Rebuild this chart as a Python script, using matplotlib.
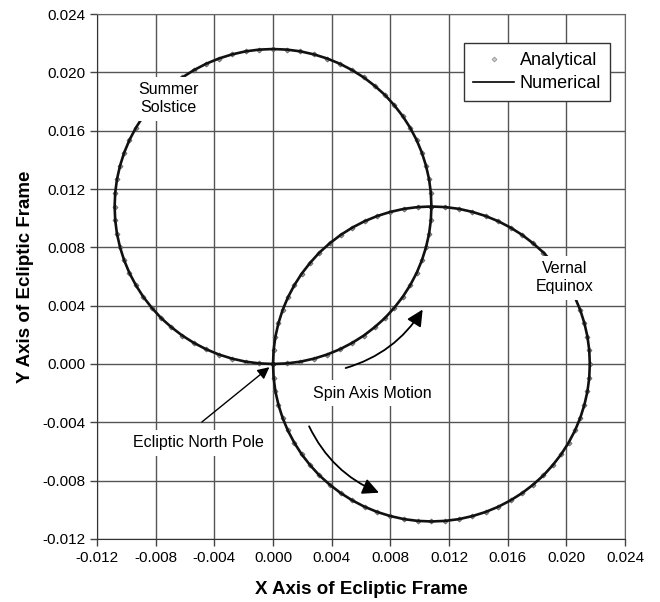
import matplotlib
matplotlib.use('Agg')
import matplotlib.pyplot as plt
from matplotlib.patches import FancyArrowPatch

plt.rcParams['font.family'] = ['Liberation Sans', 'DejaVu Sans']

# spin axis path, first loop (through summer solstice)
loop1_x = [0.0, 0.00094, 0.00187, 0.0028, 0.00369, 0.00456, 0.0054, 0.00619, 0.00694,
           0.00764, 0.00827, 0.00885, 0.00935, 0.00979, 0.01015, 0.01043, 0.01064, 0.01076,
           0.0108, 0.01076, 0.01064, 0.01043, 0.01015, 0.00979, 0.00935, 0.00885, 0.00827,
           0.00764, 0.00694, 0.00619, 0.0054, 0.00456, 0.00369, 0.0028, 0.00187, 0.00094,
           0.0, -0.00094, -0.00187, -0.0028, -0.00369, -0.00456, -0.0054, -0.00619, -0.00694,
           -0.00764, -0.00827, -0.00885, -0.00935, -0.00979, -0.01015, -0.01043, -0.01064, -0.01076,
           -0.0108, -0.01076, -0.01064, -0.01043, -0.01015, -0.00979, -0.00935, -0.00885, -0.00827,
           -0.00764, -0.00694, -0.00619, -0.0054, -0.00456, -0.00369, -0.0028, -0.00187, -0.00094,
           0.0]
loop1_y = [0.0, 0.00004, 0.00016, 0.00037, 0.00065, 0.00101, 0.00145, 0.00195, 0.00253,
           0.00316, 0.00386, 0.00461, 0.0054, 0.00624, 0.00711, 0.008, 0.00893, 0.00986,
           0.0108, 0.01174, 0.01267, 0.0136, 0.01449, 0.01536, 0.0162, 0.01699, 0.01774,
           0.01844, 0.01907, 0.01965, 0.02015, 0.02059, 0.02095, 0.02123, 0.02144, 0.02156,
           0.0216, 0.02156, 0.02144, 0.02123, 0.02095, 0.02059, 0.02015, 0.01965, 0.01907,
           0.01844, 0.01774, 0.01699, 0.0162, 0.01536, 0.01449, 0.0136, 0.01267, 0.01174,
           0.0108, 0.00986, 0.00893, 0.008, 0.00711, 0.00624, 0.0054, 0.00461, 0.00386,
           0.00316, 0.00253, 0.00195, 0.00145, 0.00101, 0.00065, 0.00037, 0.00016, 0.00004,
           0.0]

# second loop (through vernal equinox)
loop2_x = [0.0, 0.00004, 0.00016, 0.00037, 0.00065, 0.00101, 0.00145, 0.00195, 0.00253,
           0.00316, 0.00386, 0.00461, 0.0054, 0.00624, 0.00711, 0.008, 0.00893, 0.00986,
           0.0108, 0.01174, 0.01267, 0.0136, 0.01449, 0.01536, 0.0162, 0.01699, 0.01774,
           0.01844, 0.01907, 0.01965, 0.02015, 0.02059, 0.02095, 0.02123, 0.02144, 0.02156,
           0.0216, 0.02156, 0.02144, 0.02123, 0.02095, 0.02059, 0.02015, 0.01965, 0.01907,
           0.01844, 0.01774, 0.01699, 0.0162, 0.01536, 0.01449, 0.0136, 0.01267, 0.01174,
           0.0108, 0.00986, 0.00893, 0.008, 0.00711, 0.00624, 0.0054, 0.00461, 0.00386,
           0.00316, 0.00253, 0.00195, 0.00145, 0.00101, 0.00065, 0.00037, 0.00016, 0.00004,
           0.0]
loop2_y = [0.0, -0.00094, -0.00187, -0.0028, -0.00369, -0.00456, -0.0054, -0.00619, -0.00694,
           -0.00764, -0.00827, -0.00885, -0.00935, -0.00979, -0.01015, -0.01043, -0.01064, -0.01076,
           -0.0108, -0.01076, -0.01064, -0.01043, -0.01015, -0.00979, -0.00935, -0.00885, -0.00827,
           -0.00764, -0.00694, -0.00619, -0.0054, -0.00456, -0.00369, -0.0028, -0.00187, -0.00094,
           0.0, 0.00094, 0.00187, 0.0028, 0.00369, 0.00456, 0.0054, 0.00619, 0.00694,
           0.00764, 0.00827, 0.00885, 0.00935, 0.00979, 0.01015, 0.01043, 0.01064, 0.01076,
           0.0108, 0.01076, 0.01064, 0.01043, 0.01015, 0.00979, 0.00935, 0.00885, 0.00827,
           0.00764, 0.00694, 0.00619, 0.0054, 0.00456, 0.00369, 0.0028, 0.00187, 0.00094,
           0.0]

ticks = [-0.012, -0.008, -0.004, 0.0, 0.004, 0.008, 0.012, 0.016, 0.020, 0.024]

fig = plt.figure(figsize=(6.6, 6.02), dpi=100)
ax = fig.add_axes([0.147, 0.1047, 0.8, 0.872])

# analytical points under the numerical line
for lx, ly in [(loop1_x, loop1_y), (loop2_x, loop2_y)]:
    ax.plot(lx, ly, ls='none', marker='D', ms=2.6, mfc='#999999', mec='#555555',
            mew=0.5, zorder=3)
    ax.plot(lx, ly, color='#111111', lw=1.9, zorder=4)

# legend handles only
ax.plot([], [], ls='none', marker='D', ms=2.5, mfc='#cccccc', mec='#888888', mew=0.5,
        label='Analytical')
ax.plot([], [], color='black', lw=1.2, label='Numerical')

ax.set_xlim(-0.012, 0.024)
ax.set_ylim(-0.012, 0.024)
ax.set_xticks(ticks)
ax.set_yticks(ticks)
ax.set_xticklabels(['%.3f' % t for t in ticks])
ax.set_yticklabels(['%.3f' % t for t in ticks])
ax.tick_params(labelsize=11, direction='out', length=5, width=1, color='#444444')
ax.grid(True, color='#555555', lw=1)
ax.set_axisbelow(True)
for s in ['top', 'right']:
    ax.spines[s].set_color('#666666')
for s in ['left', 'bottom']:
    ax.spines[s].set_color('#333333')

ax.set_xlabel('X Axis of Ecliptic Frame', fontsize=13.5, fontweight='bold', labelpad=12)
ax.set_ylabel('Y Axis of Ecliptic Frame', fontsize=13.5, fontweight='bold', labelpad=6)

box = dict(boxstyle='square,pad=0.35', fc='white', ec='none')
ax.text(-0.00716, 0.0182, 'Summer\nSolstice', fontsize=11.5, ha='center', va='center',
        linespacing=1.25, bbox=box, zorder=6)
ax.text(0.0199, 0.0059, 'Vernal\nEquinox', fontsize=11.5, ha='center', va='center',
        linespacing=1.25, bbox=box, zorder=6)
ax.text(0.0068, -0.0020, 'Spin Axis Motion', fontsize=11.5, ha='center', va='center',
        bbox=box, zorder=6)
ax.text(-0.0051, -0.0054, 'Ecliptic North Pole', fontsize=11.5, ha='center', va='center',
        bbox=box, zorder=6)

ax.add_patch(FancyArrowPatch((-0.0050, -0.0041), (-0.0001, -0.0001),
                             arrowstyle='-|>,head_length=0.5,head_width=0.25',
                             mutation_scale=14, color='black', lw=1, zorder=7))
ax.add_patch(FancyArrowPatch((0.00477, -0.00033), (0.0103, 0.0039),
                             connectionstyle='arc3,rad=0.2',
                             arrowstyle='-|>,head_length=0.65,head_width=0.32',
                             mutation_scale=15, color='black', lw=1.3, zorder=7))
ax.add_patch(FancyArrowPatch((0.00238, -0.0041), (0.0074, -0.0089),
                             connectionstyle='arc3,rad=0.2',
                             arrowstyle='-|>,head_length=0.65,head_width=0.32',
                             mutation_scale=15, color='black', lw=1.3, zorder=7))

leg = ax.legend(loc='upper right', bbox_to_anchor=(0.972, 0.945), borderaxespad=0,
                fontsize=13, fancybox=False, framealpha=1, edgecolor='#333333',
                handlelength=2.3, handletextpad=0.3, borderpad=0.5, labelspacing=0.35)
leg.get_frame().set_linewidth(1)
leg.set_zorder(8)

fig.savefig('out.png', dpi=100)
